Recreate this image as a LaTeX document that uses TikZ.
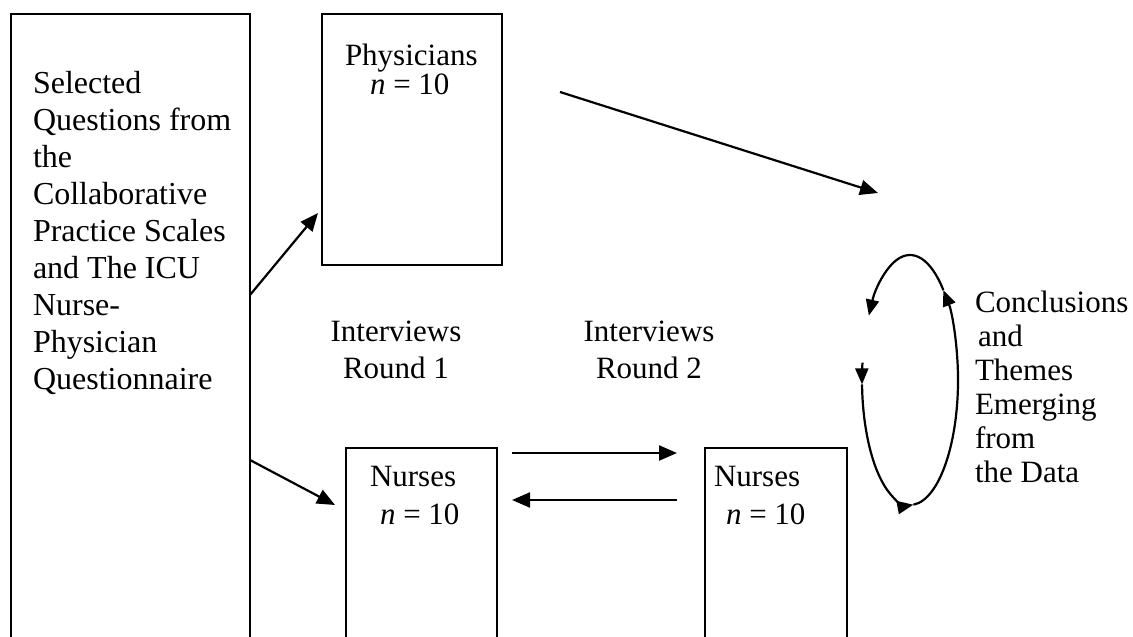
\documentclass[tikz,border=0pt]{standalone}
\usepackage{fontspec}
\setmainfont{Liberation Serif}
\usetikzlibrary{arrows.meta,calc,fit}

\begin{document}
\begin{tikzpicture}[x=0.5pt,y=-0.5pt,
    box/.style={draw,line width=0.9pt,inner sep=0pt,outer sep=0pt},
    txt/.style={inner sep=0pt,outer sep=0pt,align=left,anchor=north west,yshift=10.6pt,
      font=\fontsize{15.5}{18.5}\selectfont},
    arr/.style={-{Triangle[length=9pt,width=7.5pt]},line width=1.1pt},
    larr/.style={-{Triangle[length=8pt,width=6.5pt]},line width=1.1pt}]
  \useasboundingbox (0,0) rectangle (1133,636);
  \clip (0,0) rectangle (1133,636);
  % boxes (open at the bottom of the page)
  \node[box,fit={(11,14) (250,680)}] (qbox) {};
  \node[box,fit={(322,14) (502,265)}] (phys) {};
  \node[box,fit={(346,448) (497,680)}] (nur1) {};
  \node[box,fit={(705,448) (847,680)}] (nur2) {};
  % texts, placed at the baseline of their first line
  \node[txt,font=\fontsize{16}{18.5}\selectfont,yshift=0.3pt] (qtxt) at (33,93)
    {Selected\\Questions from\\the\\Collaborative\\Practice Scales\\and The ICU\\Nurse-\\Physician\\Questionnaire};
  \node[txt,font=\fontsize{15.5}{13.5}\selectfont] (ptxt) at (345,65) {Physicians\\\hspace{12.5pt}\textit{n} = 10};
  \node[txt,font=\fontsize{15.5}{19}\selectfont] (n1txt) at (370,487) {Nurses\\\hspace{5pt}\textit{n} = 10};
  \node[txt,font=\fontsize{15.5}{19}\selectfont] (n2txt) at (714,487) {Nurses\\\hspace{6pt}\textit{n} = 10};
  \node[txt,align=center,anchor=north] (int1) at (396,342) {Interviews\\Round 1};
  \node[txt,align=center,anchor=north] (int2) at (649,342) {Interviews\\Round 2};
  \node[txt,font=\fontsize{15.5}{17}\selectfont] (concl) at (975,312)
    {Conclusions\\\hspace{1.5pt}and\\Themes\\Emerging\\from\\the Data};
  % arrows
  \draw[arr] ($(qbox.north east)+(0,281)$) -- ($(phys.north west)+(-4,199)$);
  \draw[arr] ($(qbox.north east)+(0,446)$) -- ($(nur1.north west)+(-11,57)$);
  \draw[arr] ($(nur1.north east)+(15,5)$) -- ($(nur2.north west)+(-28,5)$);
  \draw[arr] ($(nur2.north west)+(-28,52)$) -- ($(nur1.north east)+(15,52)$);
  \coordinate (pa) at (560,92);
  \coordinate (pb) at (878,193);
  \draw[arr] (pa) -- (pb);
  % loop
  \coordinate (lc) at (910,380);
  \draw[larr] ($(lc)+(188:48 and 125)$) arc[start angle=188,end angle=178,x radius=48,y radius=125];
  \draw[larr] ($(lc)+(178:48 and 125)$) arc[start angle=178,end angle=86,x radius=48,y radius=125];
  \draw[larr] ($(lc)+(86:48 and 125)$) arc[start angle=86,end angle=-46,x radius=48,y radius=125];
  \draw[larr] ($(lc)+(-46:48 and 125)$) arc[start angle=-46,end angle=-149,x radius=48,y radius=125];
\end{tikzpicture}
\end{document}
